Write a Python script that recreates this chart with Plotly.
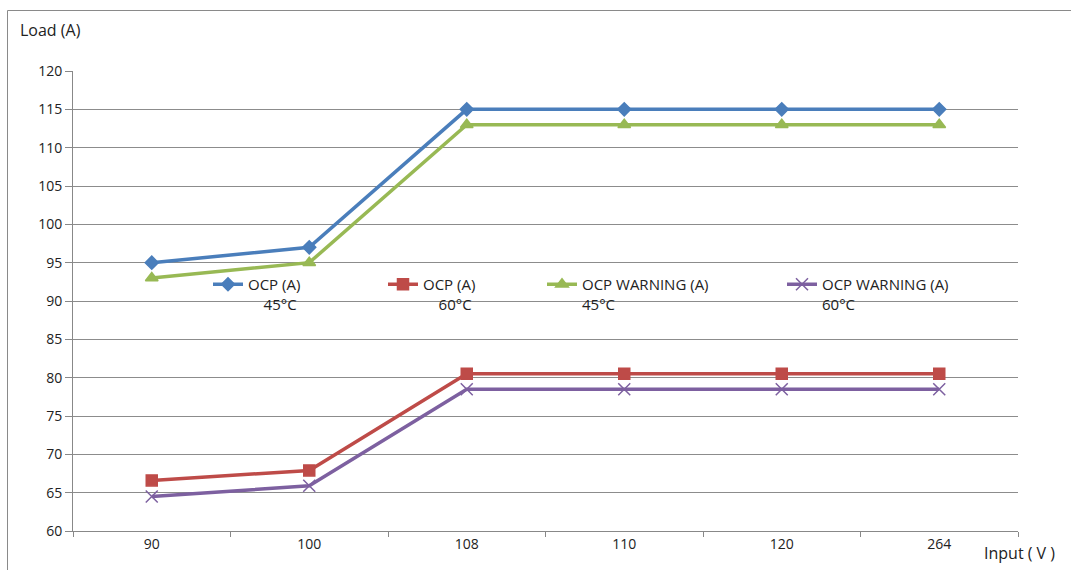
import plotly.graph_objects as go

categories = ["90", "100", "108", "110", "120", "264"]
ocp_45 = [95, 97, 115, 115, 115, 115]
ocp_60 = [66.6, 67.9, 80.5, 80.5, 80.5, 80.5]
warn_45 = [93, 95, 113, 113, 113, 113]
warn_60 = [64.5, 65.9, 78.5, 78.5, 78.5, 78.5]
y_ticks = list(range(60, 121, 5))

W, H = 1071, 570
L, R, T, B = 73, 1018, 71, 531
FONT = "Open Sans, Liberation Sans, sans-serif"
NB = "\u00a0"

def px_x(p):
    return (p - L) / (R - L)

def px_y(p):
    return (B - p) / (B - T)

fig = go.Figure()
series = [
    ("OCP (A)<br>" + NB * 4 + "45°C", ocp_45, "#4A7EBB", "diamond", 10, "legend"),
    ("OCP (A)<br>" + NB * 4 + "60°C", ocp_60, "#BE4B48", "square", 11, "legend2"),
    ("OCP WARNING (A)<br>45°C", warn_45, "#98B954", "triangle-up", 11, "legend3"),
    ("OCP WARNING (A)<br>60°C", warn_60, "#7D60A0", "x-thin-open", 12, "legend4"),
]
for name, vals, col, sym, size, lg in series:
    fig.add_trace(go.Scatter(
        x=categories, y=vals, name=name, mode="lines+markers",
        line=dict(color=col, width=3.5),
        marker=dict(symbol=sym, size=size, color=col,
                    line=dict(color=col, width=1.5)),
        legend=lg,
    ))

legend_left = [208, 383, 542, 782]
leg_common = dict(orientation="h", yanchor="top", xanchor="left",
                  bgcolor="rgba(0,0,0,0)", valign="top",
                  font=dict(family=FONT, size=15, color="#222222"))
layout_legends = {}
for i, lx in enumerate(legend_left):
    key = "legend" if i == 0 else f"legend{i+1}"
    layout_legends[key] = dict(x=px_x(lx), y=px_y(268), **leg_common)

fig.update_layout(
    width=W, height=H,
    margin=dict(l=L, r=W - R, t=T, b=H - B),
    paper_bgcolor="white", plot_bgcolor="white",
    font=dict(family=FONT, size=13, color="#222222"),
    showlegend=True,
    **layout_legends,
    xaxis=dict(
        type="category", tickson="boundaries", showgrid=False,
        range=[-0.5, 5.5],
        ticks="outside", ticklen=5, tickcolor="#888888",
        showline=True, linecolor="#888888", linewidth=1,
        tickfont=dict(family=FONT, size=14, color="#222222"),
        zeroline=False,
    ),
    yaxis=dict(
        range=[60, 120], tickvals=y_ticks, ticktext=[str(v) for v in y_ticks],
        showgrid=True, gridcolor="#8C8C8C", gridwidth=1,
        ticks="outside", ticklen=7, tickcolor="#888888",
        showline=True, linecolor="#888888", linewidth=1,
        tickfont=dict(family=FONT, size=14, color="#222222"),
        zeroline=False,
    ),
    annotations=[
        dict(text="Load (A)", xref="paper", yref="paper",
             x=px_x(18), y=px_y(30), xanchor="left", yanchor="middle",
             showarrow=False, font=dict(family=FONT, size=16, color="#222222")),
        dict(text="Input ( V )", xref="paper", yref="paper",
             x=px_x(982), y=px_y(553), xanchor="left", yanchor="middle",
             showarrow=False, font=dict(family=FONT, size=16, color="#222222")),
    ],
    shapes=[
        dict(type="rect", xref="paper", yref="paper",
             x0=px_x(7.5), x1=px_x(1090), y0=px_y(600), y1=px_y(10.5),
             line=dict(color="#8A8A8A", width=1), fillcolor="rgba(0,0,0,0)",
             layer="below"),
    ],
)

fig.write_html("out.html")
